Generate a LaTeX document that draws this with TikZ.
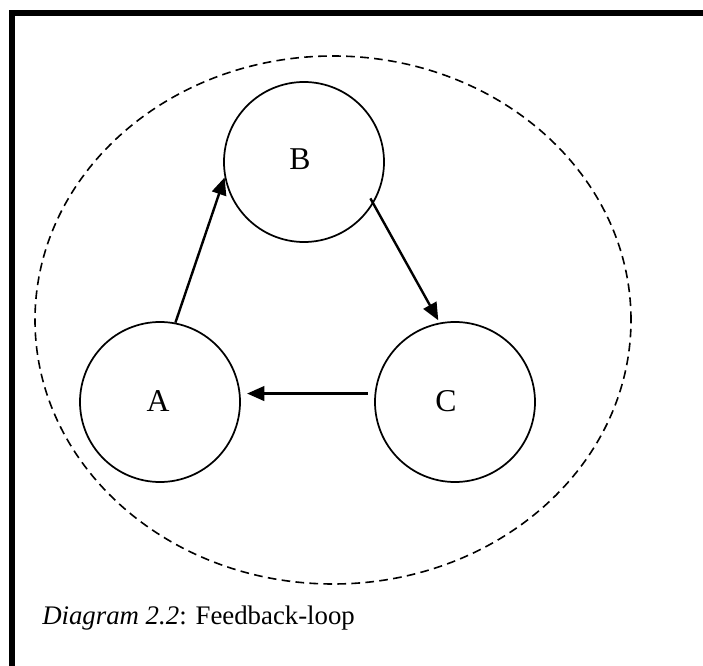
\documentclass[tikz,border=0pt]{standalone}
\usepackage{fontspec}
\setmainfont{Liberation Serif}
\usetikzlibrary{arrows.meta}
\begin{document}
\begin{tikzpicture}[x=0.75pt,y=-0.75pt,
  circ/.style={circle,draw,line width=1.3pt,minimum size=120pt,inner sep=0pt},
  lbl/.style={inner sep=0pt,font=\fontsize{23.8}{28}\selectfont},
  conn/.style={line width=1.8pt,-{Triangle[length=13pt,width=11pt]}},
  dashell/.style={line width=1.2pt,dash pattern=on 6.5pt off 4pt}]
\useasboundingbox (0,0) rectangle (703,666);
% frame
\draw[line width=4.5pt] (12,680) -- (12,13.5) -- (720,13.5);
% enclosing dashed ellipse
\draw[dashell] (333,320) ellipse [x radius=223.5pt, y radius=198pt];
% circles
\node[circ] (A) at (160,402) {};
\node[circ] (B) at (304,162) {};
\node[circ] (C) at (455,402) {};
\node[lbl] (Al) at (158,401) {A};
\node[lbl] (Bl) at (300,159) {B};
\node[lbl] (Cl) at (446,401) {C};
% connectors
\draw[conn] (A.79.6) -- (B.191.3);
\draw[conn,shorten <=-4.5pt,shorten >=2pt] (B.-31.4) -- (C.101.6);
\draw[conn,shorten <=5pt,shorten >=5pt] (C.174) -- (A.6);
% caption
\node[anchor=base west,inner sep=0pt,font=\fontsize{20.1}{24}\selectfont] (cap) at (42,624) {\textit{Diagram 2.2}: Feedback-loop};
\end{tikzpicture}
\end{document}
